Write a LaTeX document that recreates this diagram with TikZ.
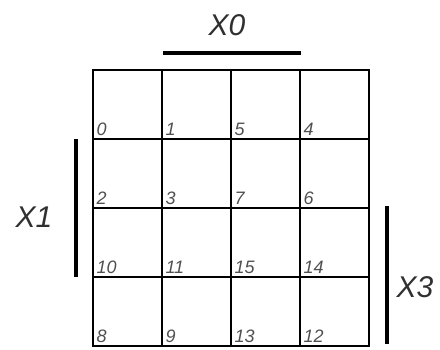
\documentclass[tikz,border=0pt]{standalone}
\usepackage{fontspec}
\setmainfont{Liberation Sans}
\usetikzlibrary{positioning}
\definecolor{labelgray}{HTML}{303030}
\definecolor{cellgray}{HTML}{505050}
\tikzset{
  cell/.style={rectangle,draw,line width=1.4pt,minimum size=69pt,inner sep=0pt},
  cellnum/.style={anchor=base west,inner sep=0pt,text=cellgray,font=\fontsize{18}{18}\selectfont\itshape},
  varname/.style={inner sep=0pt,text=labelgray,font=\fontsize{30}{30}\selectfont\itshape},
  varbar/.style={line width=4pt}
}

\begin{document}
\begin{tikzpicture}[x=1pt,y=-1pt]
\useasboundingbox (0,0) rectangle (440,349);
% karnaugh map cells, gray code order
\foreach \row [count=\j from 0] in {{0,1,5,4},{2,3,7,6},{10,11,15,14},{8,9,13,12}} {
  \foreach \n [count=\i from 0] in \row {
    \node[cell] (c\n) at (127.5+69*\i,104.5+69*\j) {};
    \node[cellnum] (n\n) at ([xshift=4pt,yshift=4pt]c\n.south west) {\n};
  }
}
% variable bars
\coordinate (x0a) at (163,53);
\coordinate (x0b) at (301,53);
\coordinate (x1a) at (76,139);
\coordinate (x1b) at (76,277);
\coordinate (x3a) at (387,206);
\coordinate (x3b) at (387,344);
\draw[varbar] (x0a) -- (x0b);
\draw[varbar] (x1a) -- (x1b);
\draw[varbar] (x3a) -- (x3b);
\node[varname] (x0) at (227,25) {X0};
\node[varname] (x1) at (34,217) {X1};
\node[varname] (x3) at (415,287) {X3};
\end{tikzpicture}
\end{document}
